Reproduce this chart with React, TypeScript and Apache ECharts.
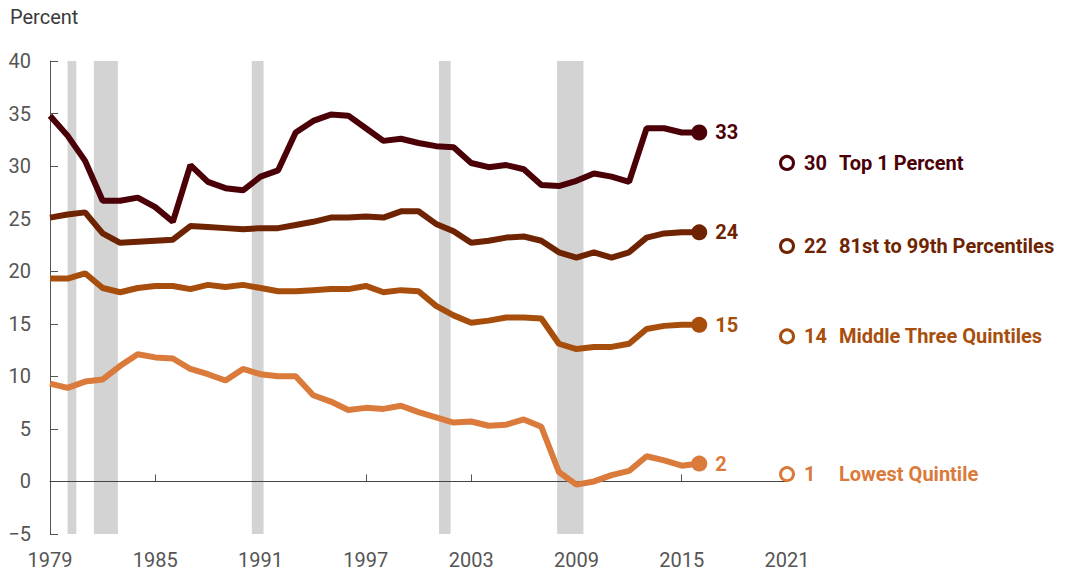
import React, { useEffect, useRef } from "react";
import * as echarts from "echarts";

const years = [1979,1980,1981,1982,1983,1984,1985,1986,1987,1988,1989,1990,1991,1992,1993,1994,1995,1996,1997,1998,1999,2000,2001,2002,2003,2004,2005,2006,2007,2008,2009,2010,2011,2012,2013,2014,2015,2016];

const top1 = [34.8,32.9,30.5,26.7,26.7,27.0,26.1,24.7,30.1,28.5,27.9,27.7,29.0,29.6,33.2,34.3,34.9,34.8,33.6,32.4,32.6,32.2,31.9,31.8,30.3,29.9,30.1,29.7,28.2,28.1,28.6,29.3,29.0,28.5,33.6,33.6,33.2,33.2];
const p81to99 = [25.1,25.4,25.6,23.6,22.7,22.8,22.9,23.0,24.3,24.2,24.1,24.0,24.1,24.1,24.4,24.7,25.1,25.1,25.2,25.1,25.7,25.7,24.5,23.8,22.7,22.9,23.2,23.3,22.9,21.8,21.3,21.8,21.3,21.8,23.2,23.6,23.7,23.7];
const middle3 = [19.3,19.3,19.8,18.4,18.0,18.4,18.6,18.6,18.3,18.7,18.5,18.7,18.4,18.1,18.1,18.2,18.3,18.3,18.6,18.0,18.2,18.1,16.7,15.8,15.1,15.3,15.6,15.6,15.5,13.1,12.6,12.8,12.8,13.1,14.5,14.8,14.9,14.9];
const lowest = [9.3,8.9,9.5,9.7,11.0,12.1,11.8,11.7,10.7,10.2,9.6,10.7,10.2,10.0,10.0,8.2,7.6,6.8,7.0,6.9,7.2,6.6,6.1,5.6,5.7,5.3,5.4,5.9,5.2,0.9,-0.3,0.0,0.6,1.0,2.4,2.0,1.5,1.7];

const seriesNames = ["Top 1 Percent", "81st to 99th Percentiles", "Middle Three Quintiles", "Lowest Quintile"];
const seriesColors = ["#4b0008", "#6e2402", "#a84e0d", "#da7a3b"];
const endLabels = ["33", "24", "15", "2"];
const projYear = 2021;
const projLabels = ["30", "22", "14", "1"];
const projValues = [30.3, 22.4, 13.8, 0.7];

const recessions: [number, number][] = [
  [1980.0, 1980.5],
  [1981.5, 1982.87],
  [1990.5, 1991.17],
  [2001.17, 2001.83],
  [2007.9, 2009.4],
];

const xTicks = { min: 1979, max: 2021, interval: 6 };
const yTicks = { min: -5, max: 40, interval: 5 };

const FONT = "Roboto";

export default function App() {
  const ref = useRef<HTMLDivElement>(null);
  useEffect(() => {
    if (!ref.current) return;
    const chart = echarts.init(ref.current, undefined, { renderer: "svg" });
    const allData = [top1, p81to99, middle3, lowest];

    const lineSeries = allData.map((d, i) => ({
      type: "line",
      name: seriesNames[i],
      data: years.map((y, j) => [y, d[j]]),
      showSymbol: false,
      symbol: "none",
      lineStyle: { color: seriesColors[i], width: 6 },
      z: 10,
      silent: true,
    }));

    const endSeries = allData.map((d, i) => ({
      type: "scatter",
      data: [[years[years.length - 1], d[d.length - 1]]],
      symbol: "circle",
      symbolSize: 16,
      itemStyle: { color: seriesColors[i], opacity: 1 },
      clip: false,
      z: 11,
      silent: true,
      label: {
        show: true,
        position: "right",
        distance: 8,
        formatter: endLabels[i],
        fontFamily: FONT,
        fontSize: 20,
        fontWeight: "bold",
        color: seriesColors[i],
      },
    }));

    const projSeries = projValues.map((v, i) => ({
      type: "scatter",
      data: [[projYear, v]],
      symbol: "circle",
      symbolSize: 13,
      itemStyle: { color: "#ffffff", borderColor: seriesColors[i], borderWidth: 3, opacity: 1 },
      clip: false,
      z: 11,
      silent: true,
      label: {
        show: true,
        position: "right",
        distance: 9,
        formatter: `{v|${projLabels[i]}}{n|${seriesNames[i]}}`,
        rich: {
          v: { width: 35, fontFamily: FONT, fontSize: 20, fontWeight: "bold", color: seriesColors[i] },
          n: { fontFamily: FONT, fontSize: 20, fontWeight: "bold", color: seriesColors[i] },
        },
      },
    }));

    const bandSeries = {
      type: "line",
      data: [],
      z: 1,
      silent: true,
      markArea: {
        silent: true,
        itemStyle: { color: "#d3d3d3" },
        data: recessions.map(([a, b]) => [{ xAxis: a }, { xAxis: b }]),
      },
    };

    const zeroSeries = {
      type: "line",
      data: [],
      z: 5,
      silent: true,
      markLine: {
        silent: true,
        symbol: ["none", "none"],
        label: { show: false },
        lineStyle: { color: "#444", width: 1, type: "solid" },
        data: [{ yAxis: 0 }],
      },
    };

    chart.setOption({
      animation: false,
      grid: { left: 50, right: 278, top: 61, bottom: 39, containLabel: false },
      graphic: [
        {
          type: "text",
          left: 10,
          top: 7,
          style: { text: "Percent", fontFamily: FONT, fontSize: 20, fill: "#3a3a3a" },
        },
      ],
      xAxis: {
        type: "value",
        min: xTicks.min,
        max: xTicks.max,
        interval: xTicks.interval,
        splitLine: { show: false },
        axisLine: { show: true, lineStyle: { color: "#555", width: 1 } },
        axisTick: { show: true, inside: true, length: 7, lineStyle: { color: "#555" } },
        axisLabel: {
          fontFamily: FONT,
          fontSize: 20,
          color: "#555",
          margin: 16,
          formatter: (v: number) => String(v),
        },
      },
      yAxis: {
        type: "value",
        min: yTicks.min,
        max: yTicks.max,
        interval: yTicks.interval,
        splitLine: { show: false },
        axisLine: { show: true, lineStyle: { color: "#555", width: 1 } },
        axisTick: { show: true, inside: true, length: 8, lineStyle: { color: "#555" } },
        axisLabel: {
          fontFamily: FONT,
          fontSize: 20,
          color: "#555",
          margin: 19,
          formatter: (v: number) => (v < 0 ? "\u2212" + Math.abs(v) : String(v)),
        },
      },
      series: [bandSeries, zeroSeries, ...lineSeries, ...endSeries, ...projSeries],
    });
    return () => chart.dispose();
  }, []);
  return (
    <div
      ref={ref}
      style={{ position: "fixed", left: 0, top: 0, width: 1065, height: 573, background: "#fff" }}
    />
  );
}
